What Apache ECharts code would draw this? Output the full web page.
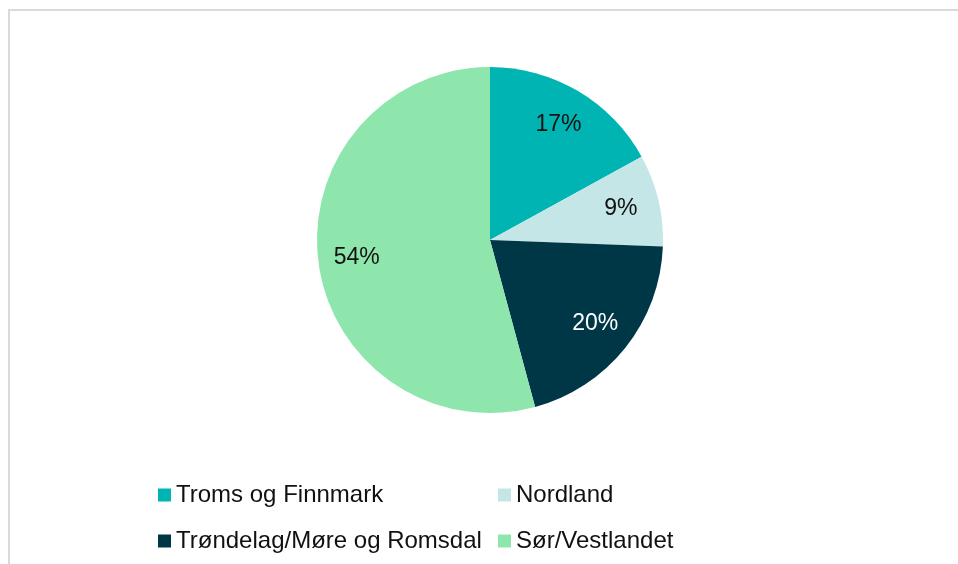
<!DOCTYPE html>
<html>
<head>
<meta charset="utf-8">
<script src="https://cdn.jsdelivr.net/npm/echarts@6/dist/echarts.min.js"></script>
<style>
  html, body { margin: 0; padding: 0; background: #fff; }
  #frame {
    position: absolute; left: 8px; top: 9px; width: 960px; height: 560px;
    border-left: 2px solid #d9d9d9; border-top: 2px solid #d9d9d9;
  }
  #chart { position: absolute; left: 0; top: 0; width: 958px; height: 564px; }
</style>
</head>
<body>
<div id="frame"></div>
<div id="chart"></div>
<script>
const regions = ['Troms og Finnmark', 'Nordland', 'Trøndelag/Møre og Romsdal', 'Sør/Vestlandet'];
const shares = [17.0, 8.6, 20.2, 54.2];
const shareLabels = ['17%', '9%', '20%', '54%'];
const colors = ['#00b4b4', '#c4e6e6', '#003747', '#8ee6ad'];
const labelColors = ['#111', '#111', '#fff', '#111'];
// legend columns, as laid out in the original
const legendLeftCol = ['Troms og Finnmark', 'Trøndelag/Møre og Romsdal'];
const legendRightCol = ['Nordland', 'Sør/Vestlandet'];

const font = '"Liberation Sans", Arial, sans-serif';
const chart = echarts.init(document.getElementById('chart'));

const pieData = regions.map((name, i) => ({
    name: name,
    value: shares[i],
    itemStyle: { color: colors[i] }
}));

const labelData = regions.map((name, i) => ({
    name: name,
    value: shares[i],
    itemStyle: { color: 'rgba(0,0,0,0)' },
    label: { color: labelColors[i] }
}));

function legendCol(names, left) {
    return {
        data: names,
        orient: 'vertical',
        left: left,
        top: 478,
        itemWidth: 13,
        itemHeight: 13,
        itemGap: 22,
        icon: 'rect',
        selectedMode: false,
        textStyle: {
            fontFamily: font,
            fontSize: 24,
            lineHeight: 24,
            color: '#111'
        }
    };
}

chart.setOption({
    animation: false,
    legend: [legendCol(legendLeftCol, 153), legendCol(legendRightCol, 493)],
    series: [
        {
            type: 'pie',
            center: [490, 240],
            radius: [0, 173],
            startAngle: 90,
            clockwise: true,
            silent: true,
            label: { show: false },
            labelLine: { show: false },
            data: pieData
        },
        {
            type: 'pie',
            center: [490, 240],
            radius: [90, 173],
            startAngle: 90,
            clockwise: true,
            silent: true,
            label: {
                show: true,
                position: 'inside',
                fontFamily: font,
                fontSize: 23,
                formatter: function (p) {
                    return shareLabels[p.dataIndex];
                }
            },
            labelLine: { show: false },
            data: labelData
        }
    ]
});
</script>
</body>
</html>
